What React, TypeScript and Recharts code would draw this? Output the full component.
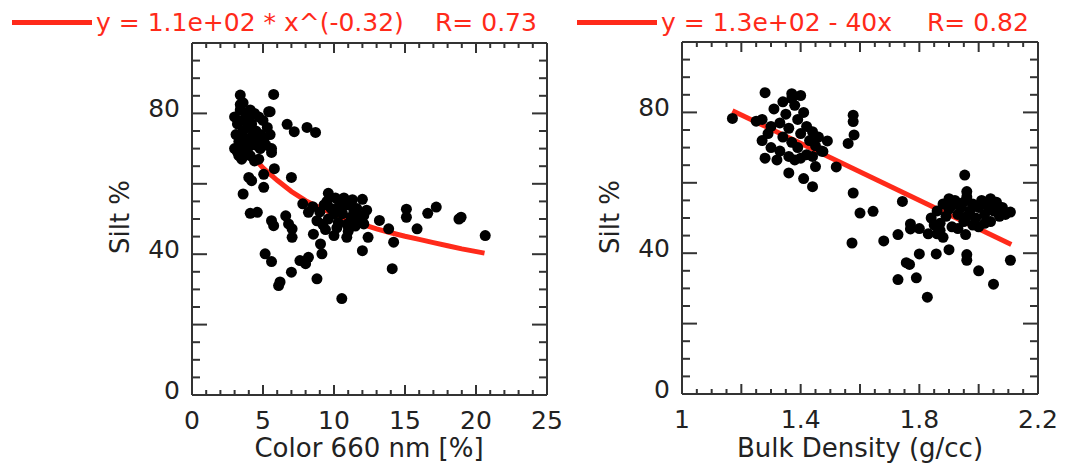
import React from "react";
import { ScatterChart, Scatter, XAxis, YAxis } from "recharts";

// silt % vs colour 660 nm
const colorSiltPts: [number, number][] = [
  [3.0, 79], [3.2, 77], [3.4, 81], [3.6, 83], [3.5, 78], [3.8, 80], [4.1, 81], [4.4, 80], [4.7, 79], [5.0, 78], [5.4, 80.5],
  [3.1, 74], [3.3, 72], [3.6, 75], [3.9, 76], [4.2, 77], [4.5, 75], [4.8, 74], [5.1, 73], [5.5, 74],
  [3.0, 70], [3.3, 68], [3.6, 71], [3.9, 72], [4.2, 73], [4.5, 71], [4.8, 70], [5.2, 71],
  [3.5, 67], [3.8, 69], [4.1, 68], [4.4, 66.5], [4.7, 67], [3.4, 82.5], [4.0, 78.5], [4.3, 74], [3.7, 73],
  [4.6, 72.5], [5.3, 76], [3.2, 69], [4.0, 70.5], [5.6, 70],
  [3.4, 85.2], [5.75, 85.4], [5.5, 80.5], [6.7, 76.9], [7.2, 74.8], [8.1, 76], [8.7, 74.6],
  [5.6, 68.9], [5.8, 64.3], [7.0, 61.8], [4.0, 61.8], [4.2, 60.9], [5.05, 62.7], [5.05, 59], [3.6, 57.1],
  [4.1, 51.6], [4.6, 51.9], [5.6, 49.5], [5.75, 48.1], [6.6, 50.9], [6.8, 48.6], [7.05, 47.2], [7.05, 44.8],
  [5.15, 40.1], [5.6, 37.9], [6.2, 32.1], [6.1, 31.1], [7.0, 34.9], [7.6, 38.2], [8.0, 37.3], [8.2, 39.1],
  [8.8, 33], [9.05, 42.9], [9.15, 40.1], [8.55, 45.7], [10.0, 45.3], [10.9, 44.8], [12.0, 41], [12.4, 44.8],
  [12.1, 48.6], [10.55, 27.4],
  [7.8, 54.3], [8.2, 51.9], [8.5, 53.5], [8.8, 49.5], [9.0, 52], [9.2, 48.5], [9.3, 54], [9.5, 55], [9.6, 57.3],
  [9.6, 50], [9.8, 53], [9.4, 47], [9.9, 52.8], [10.0, 51.5], [10.1, 56], [10.2, 47.5], [10.3, 49], [10.4, 54.5],
  [10.5, 52.5], [10.6, 51.5], [10.7, 56], [10.9, 48.5], [11.0, 54], [11.0, 46.5], [11.2, 50.5], [11.3, 55.5],
  [11.4, 52], [11.5, 48], [11.6, 53], [11.8, 50], [12.0, 55.6], [12.1, 51], [12.3, 52.5],
  [13.2, 49.6], [13.85, 47.2], [14.2, 43.4], [14.1, 35.9], [15.1, 52.8], [15.1, 50.5], [15.85, 47.2],
  [16.6, 51.6], [17.2, 53.4], [18.8, 50], [18.95, 50.5], [20.65, 45.3],
];

// red power-law fit
const colorFitPts: [number, number][] = [
  [3.2, 74], [4, 69], [5, 64.5], [6, 61], [7, 57.8], [8, 55.2], [9, 53.2], [10, 51.4], [11, 49.9],
  [12, 48.5], [13, 47.2], [14, 46.1], [15, 45.1], [16, 44.2], [17, 43.3], [18, 42.4], [19, 41.5], [20.6, 40.3],
];

// silt % vs bulk density (right panel)
const densitySiltPts: [number, number][] = [
  [1.17, 78.3], [1.28, 85.6], [1.37, 85.3], [1.4, 84.8], [1.25, 77.5], [1.36, 62.8], [1.41, 61.2], [1.44, 58.9],
  [1.45, 64.6], [1.49, 71.9], [1.475, 68.9], [1.52, 64.5], [1.577, 79.2], [1.577, 77.4], [1.58, 73.6], [1.56, 71.2],
  [1.577, 57.1], [1.6, 51.4], [1.644, 51.9], [1.573, 42.9], [1.68, 43.5], [1.728, 45.3], [1.743, 54.7],
  [1.77, 48.3], [1.77, 46.9], [1.728, 32.5], [1.756, 37.3], [1.767, 36.8], [1.79, 33], [1.8, 39.8], [1.827, 27.5],
  [1.857, 39.8], [1.9, 41], [1.953, 62.2], [1.96, 57.5], [1.956, 45.3], [1.96, 39.6], [1.96, 38], [2.0, 35],
  [2.05, 31.2], [2.107, 51.7], [2.107, 38], [1.8, 47], [1.83, 45.5], [1.86, 45.5], [1.88, 44.5],
  [1.27, 78], [1.29, 74], [1.3, 70], [1.28, 67], [1.31, 81], [1.33, 77], [1.34, 73], [1.33, 69], [1.32, 66.5],
  [1.35, 79.5], [1.36, 75.5], [1.37, 71.5], [1.36, 67.5], [1.38, 82], [1.39, 78], [1.4, 74], [1.39, 70],
  [1.38, 66.5], [1.41, 80], [1.42, 76], [1.43, 72], [1.42, 68], [1.44, 74.5], [1.45, 70.5], [1.46, 73],
  [1.34, 83], [1.37, 84], [1.3, 76], [1.27, 72], [1.4, 67], [1.44, 67.5], [1.47, 69],
  [1.84, 50], [1.86, 52], [1.87, 48.5], [1.88, 54], [1.89, 50.5], [1.9, 52.5], [1.91, 47.5], [1.92, 55],
  [1.93, 51], [1.94, 53], [1.95, 49], [1.96, 56], [1.97, 52], [1.98, 54], [1.99, 50], [2.0, 53], [2.01, 55],
  [2.02, 51], [2.03, 53.5], [2.04, 49], [2.05, 52], [2.06, 54.5], [2.07, 50.5], [2.08, 53], [2.09, 51],
  [1.87, 46.5], [1.93, 47], [1.98, 48], [2.02, 48.5], [1.9, 55.5], [1.95, 54.5], [2.04, 55.5], [1.85, 48],
  [1.96, 50.5], [2.0, 47.5], [1.91, 53.5],
];

// red linear fit ends
const densityFitPts: [number, number][] = [[1.17, 80.5], [2.11, 42.5]];

// ticks
const colorTicks = [0, 1, 2, 3, 4, 5, 6, 7, 8, 9, 10, 11, 12, 13, 14, 15, 16, 17, 18, 19, 20, 21, 22, 23, 24, 25];
const colorMajor = [0, 5, 10, 15, 20, 25];
const colorLabels = [0, 5, 10, 15, 20, 25];
const densityTicks = [1, 1.05, 1.1, 1.15, 1.2, 1.25, 1.3, 1.35, 1.4, 1.45, 1.5, 1.55, 1.6, 1.65, 1.7, 1.75, 1.8, 1.85, 1.9, 1.95, 2, 2.05, 2.1, 2.15, 2.2];
const densityMajor = [1, 1.2, 1.4, 1.6, 1.8, 2, 2.2];
const densityLabels = [1, 1.4, 1.8, 2.2];
const siltTicks = [0, 5, 10, 15, 20, 25, 30, 35, 40, 45, 50, 55, 60, 65, 70, 75, 80, 85, 90, 95, 100];
const siltMajor = [0, 20, 40, 60, 80, 100];
const siltLabels = [0, 40, 80];

const FONT = "'DejaVu Sans', sans-serif";
const RED = "#ff2a1a";
const INK = "#333";

type Side = "bottom" | "top" | "left" | "right";

const has = (arr: number[], v: number) => arr.some((a) => Math.abs(a - v) < 1e-6);

// ticks point inward, labels outside (bottom/left only)
const tickMark = (side: Side, major: number[], labels: number[]) => (props: any) => {
  const { x, y, payload } = props;
  const v = payload.value;
  const big = has(major, v);
  const horiz = side === "bottom" || side === "top";
  const len = horiz ? (big ? 10 : 5) : big ? 15 : 8;
  let x2 = x;
  let y2 = y;
  if (side === "bottom") y2 = y - len;
  if (side === "top") y2 = y + len;
  if (side === "left") x2 = x + len;
  if (side === "right") x2 = x - len;
  let label = null;
  if (has(labels, v)) {
    if (side === "bottom")
      label = (
        <text x={x} y={y + 25} textAnchor="middle" dominantBaseline="central" fontSize={25} fontFamily={FONT} fill="#222">
          {String(v)}
        </text>
      );
    if (side === "left")
      label = (
        <text x={x - 12} y={y - 5} textAnchor="end" dominantBaseline="central" fontSize={25} fontFamily={FONT} fill="#222">
          {String(v)}
        </text>
      );
  }
  return (
    <g>
      <line x1={x} y1={y} x2={x2} y2={y2} stroke={INK} strokeWidth={2} />
      {label}
    </g>
  );
};

const dot = (p: any) => <circle cx={p.cx} cy={p.cy} r={5.5} fill="#000" />;
const noDot = () => <g />;

const toRows = (pts: [number, number][]) => pts.map(([x, y]) => ({ x, y }));

const Panel = ({ pts, fit, xDomain, xTicks, xMajor, xLabels, margin, width }: any) => {
  const axisLine = { stroke: INK, strokeWidth: 2 };
  return (
    <ScatterChart width={width} height={471} margin={margin}>
      <XAxis xAxisId="b" type="number" dataKey="x" domain={xDomain} ticks={xTicks} interval={0} allowDataOverflow
        height={60} tickSize={0} tickMargin={0} axisLine={axisLine} tickLine={false} tick={tickMark("bottom", xMajor, xLabels)} />
      <XAxis xAxisId="t" orientation="top" type="number" dataKey="x" domain={xDomain} ticks={xTicks} interval={0} allowDataOverflow
        height={1} tickSize={0} tickMargin={0} axisLine={axisLine} tickLine={false} tick={tickMark("top", xMajor, [])} />
      <YAxis yAxisId="l" type="number" dataKey="y" domain={[0, 100]} ticks={siltTicks} interval={0} allowDataOverflow
        width={60} tickSize={0} tickMargin={0} axisLine={axisLine} tickLine={false} tick={tickMark("left", siltMajor, siltLabels)} />
      <YAxis yAxisId="r" orientation="right" type="number" dataKey="y" domain={[0, 100]} ticks={siltTicks} interval={0} allowDataOverflow
        width={1} tickSize={0} tickMargin={0} axisLine={axisLine} tickLine={false} tick={tickMark("right", siltMajor, [])} />
      <Scatter xAxisId="b" yAxisId="l" data={toRows(fit)} line={{ stroke: RED, strokeWidth: 5 }} shape={noDot} isAnimationActive={false} />
      <Scatter xAxisId="b" yAxisId="l" data={toRows(pts)} shape={dot} isAnimationActive={false} />
    </ScatterChart>
  );
};

const abs = (left: number, top: number, extra: React.CSSProperties = {}): React.CSSProperties => ({
  position: "absolute", left, top, fontFamily: FONT, lineHeight: 1, whiteSpace: "pre", ...extra,
});

export default function App() {
  return (
    <div style={{ position: "absolute", left: 0, top: 0, width: 1068, height: 471, background: "#fff", overflow: "hidden" }}>
      <div style={abs(0, 0)}>
        <Panel pts={colorSiltPts} fit={colorFitPts} xDomain={[0, 25]} xTicks={colorTicks} xMajor={colorMajor} xLabels={colorLabels}
          width={575} margin={{ top: 42, right: 27, bottom: 16, left: 132 }} />
      </div>
      <div style={abs(575, 0)}>
        <Panel pts={densitySiltPts} fit={densityFitPts} xDomain={[1, 2.2]} xTicks={densityTicks} xMajor={densityMajor} xLabels={densityLabels}
          width={493} margin={{ top: 41, right: 29, bottom: 17, left: 47 }} />
      </div>

      {/* legends */}
      <div style={abs(12, 19.5, { width: 80, height: 5, background: RED })} />
      <div style={abs(96, 22, { fontSize: 25, color: RED, transform: "translateY(-50%)" })}>y = 1.1e+02 * x^(-0.32)</div>
      <div style={abs(435, 22, { fontSize: 25, color: RED, transform: "translateY(-50%)" })}>R= 0.73</div>
      <div style={abs(577, 19.5, { width: 80, height: 5, background: RED })} />
      <div style={abs(661, 22, { fontSize: 25, color: RED, transform: "translateY(-50%)" })}>y = 1.3e+02 - 40x</div>
      <div style={abs(927, 22, { fontSize: 25, color: RED, transform: "translateY(-50%)" })}>R= 0.82</div>

      {/* axis titles */}
      <div style={abs(120, 217, { fontSize: 26, color: "#222", transform: "translate(-50%, -50%) rotate(-90deg)" })}>Silt %</div>
      <div style={abs(610, 217, { fontSize: 26, color: "#222", transform: "translate(-50%, -50%) rotate(-90deg)" })}>Silt %</div>
      <div style={abs(369, 448, { fontSize: 26, color: "#222", transform: "translate(-50%, -50%)" })}>Color 660 nm [%]</div>
      <div style={abs(860, 448, { fontSize: 26, color: "#222", transform: "translate(-50%, -50%)" })}>Bulk Density (g/cc)</div>
    </div>
  );
}
